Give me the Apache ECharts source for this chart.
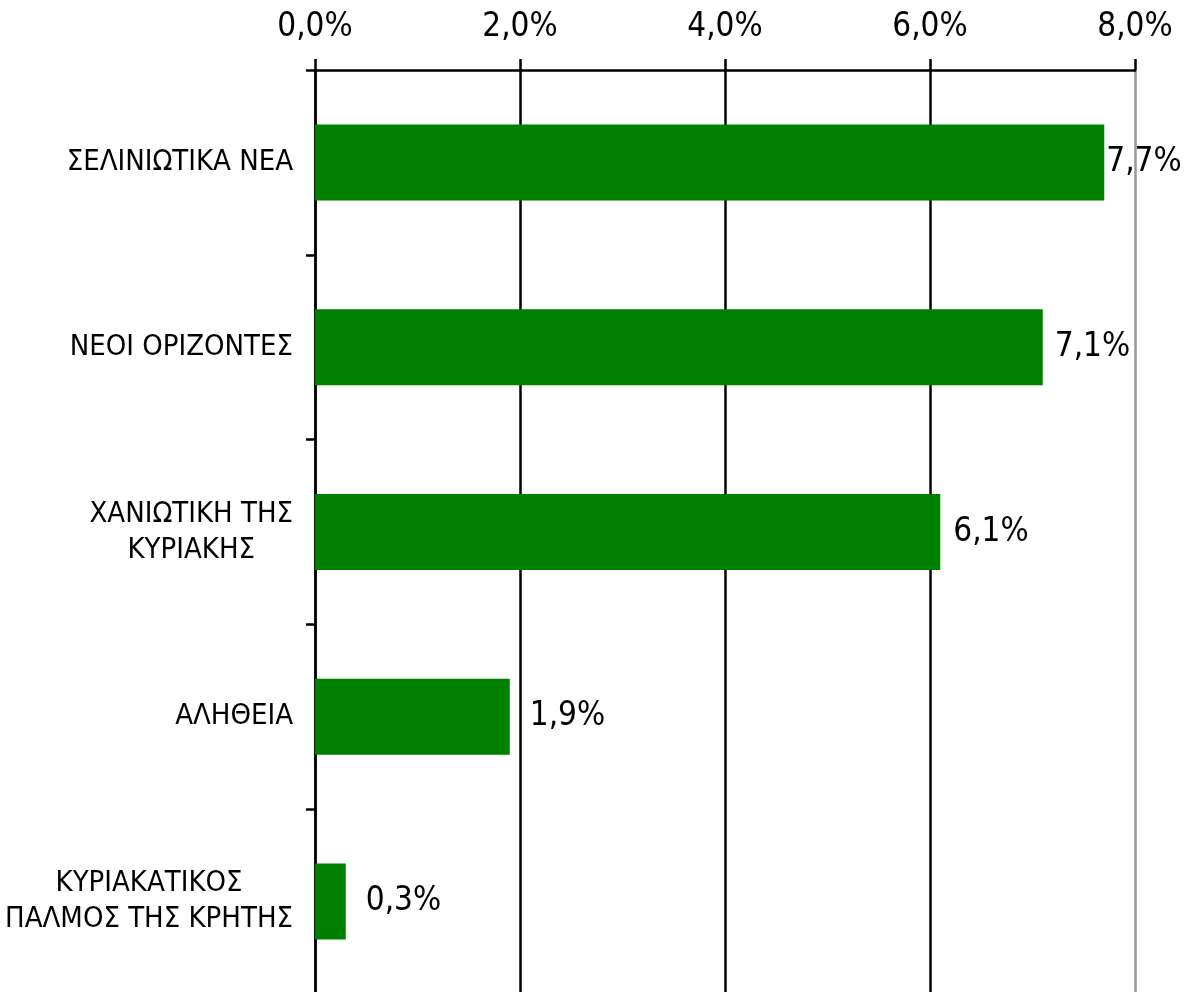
<!DOCTYPE html>
<html>
<head>
<meta charset="utf-8">
<script src="https://cdn.jsdelivr.net/npm/echarts@6/dist/echarts.min.js"></script>
<style>
  html, body { margin: 0; padding: 0; background: #fff; }
  #chart { width: 1187px; height: 992px; }
</style>
</head>
<body>
<div id="chart"></div>
<script>
// categories, top to bottom
const categories = [
  "ΣΕΛΙΝΙΩΤΙΚΑ ΝΕΑ",
  "ΝΕΟΙ ΟΡΙΖΟΝΤΕΣ",
  "ΧΑΝΙΩΤΙΚΗ ΤΗΣ\nΚΥΡΙΑΚΗΣ",
  "ΑΛΗΘΕΙΑ",
  "ΚΥΡΙΑΚΑΤΙΚΟΣ\nΠΑΛΜΟΣ ΤΗΣ ΚΡΗΤΗΣ"
];
// share in %
const values = [7.7, 7.1, 6.1, 1.9, 0.3];
const axisTicks = [0, 2, 4, 6, 8];

// gap between bar end and its label (px)
const labelGaps = [2, 12, 13, 20, 20];

const FONT = '"DejaVu Sans Condensed", "DejaVu Sans", sans-serif';
const pct = (v) => v.toFixed(1).replace(".", ",") + "%";

const chart = echarts.init(document.getElementById("chart"));

const option = {
  animation: false,
  backgroundColor: "#fff",
  grid: {
    left: 315,
    right: 52,
    top: 70,
    height: 924,
    containLabel: false,
    outerBoundsMode: "none"
  },
  xAxis: {
    type: "value",
    position: "top",
    min: axisTicks[0],
    max: axisTicks[axisTicks.length - 1],
    interval: 2,
    axisLine: { show: true, lineStyle: { color: "#000", width: 2.5 } },
    axisTick: { show: true, length: 11, lineStyle: { color: "#000", width: 2.5 } },
    axisLabel: {
      margin: 26,
      formatter: (v) => pct(v),
      color: "#000",
      fontFamily: FONT,
      fontSize: 33
    },
    splitLine: {
      show: true,
      lineStyle: { color: ["#000", "#000", "#000", "#000", "#999"], width: 2.5 }
    }
  },
  yAxis: {
    type: "category",
    inverse: true,
    data: categories,
    axisLine: { show: true, lineStyle: { color: "#000", width: 2.5 } },
    axisTick: { show: true, length: 9, lineStyle: { color: "#000", width: 2.5 } },
    axisLabel: {
      margin: 22,
      color: "#000",
      fontFamily: FONT,
      fontSize: 29,
      lineHeight: 36,
      formatter: (v) => v.split("\n").map((s) => "{c|" + s + "}").join("\n"),
      rich: {
        c: { align: "center", fontFamily: FONT, fontSize: 29, lineHeight: 36, color: "#000" }
      }
    }
  },
  series: [
    {
      type: "bar",
      barWidth: 76,
      itemStyle: { color: "#008000" },
      data: values.map((v, i) => ({
        value: v,
        label: { distance: labelGaps[i] }
      })),
      label: {
        show: true,
        position: "right",
        color: "#000",
        fontFamily: FONT,
        fontSize: 33,
        formatter: (p) => pct(p.value)
      }
    }
  ]
};

chart.setOption(option);
</script>
</body>
</html>
